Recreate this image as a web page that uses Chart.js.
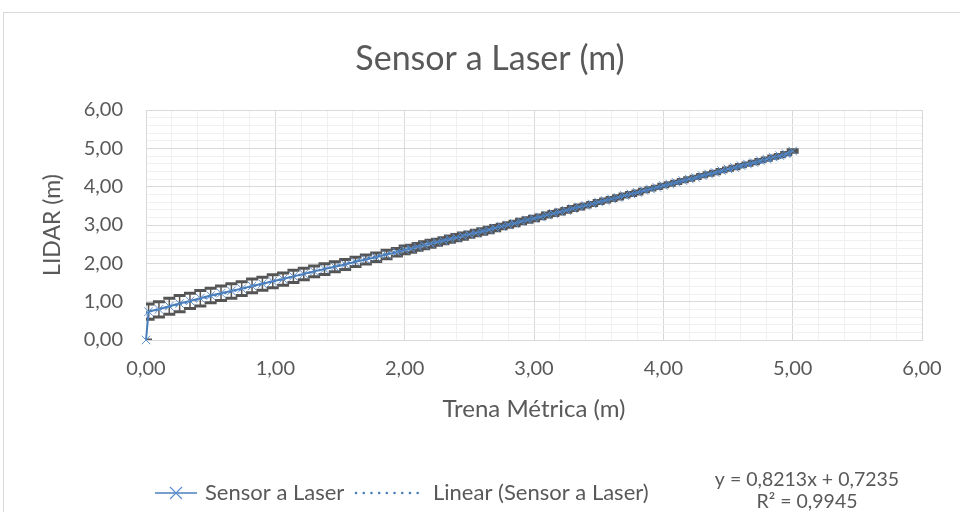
<!DOCTYPE html>
<html>
<head>
<meta charset="utf-8">
<script src="https://cdn.jsdelivr.net/npm/chart.js@4/dist/chart.umd.min.js"></script>
<style>
html,body{margin:0;padding:0;background:#fff;}
#wrap{position:relative;width:960px;height:512px;}
</style>
</head>
<body>
<div id="wrap"><canvas id="c" width="960" height="512"></canvas></div>
<script>
const chartTitle = "Sensor a Laser (m)";
const xTitle = "Trena Métrica (m)";
const yTitle = "LIDAR (m)";
const seriesName = "Sensor a Laser";
const trendName = "Linear (Sensor a Laser)";
const trendSlope = 0.8213;
const trendIntercept = 0.7235;
const trendText = ["y = 0,8213x + 0,7235", "R² = 0,9945"];

const trena = [0.00,0.02,0.10,0.18,0.26,0.34,0.42,0.50,0.58,0.66,0.74,0.82,0.90,0.98,
1.06,1.14,1.22,1.30,1.38,1.46,1.54,1.62,1.70,1.78,1.86,1.94,
2.00,2.05,2.10,2.15,2.20,2.25,2.30,2.35,2.40,2.45,2.50,2.55,2.60,2.65,2.70,2.75,2.80,2.85,2.90,2.95,
3.00,3.05,3.10,3.15,3.20,3.25,3.30,3.35,3.40,3.45,3.50,3.55,3.60,3.65,3.70,3.75,3.80,3.85,3.90,3.95,
4.00,4.05,4.10,4.15,4.20,4.25,4.30,4.35,4.40,4.45,4.50,4.55,4.60,4.65,4.70,4.75,4.80,4.85,4.90,4.95,5.00];

const lidar = [0.00,0.74,0.80,0.88,0.95,1.02,1.09,1.16,1.22,1.28,1.34,1.41,1.47,1.53,
1.59,1.66,1.72,1.79,1.85,1.91,1.97,2.04,2.10,2.16,2.23,2.29,
2.35,2.38,2.43,2.47,2.51,2.55,2.59,2.63,2.67,2.71,2.75,2.79,2.83,2.87,2.92,2.96,3.00,3.04,3.09,3.13,
3.17,3.21,3.26,3.30,3.34,3.38,3.43,3.47,3.51,3.55,3.60,3.64,3.68,3.72,3.77,3.81,3.85,3.90,3.94,3.98,
4.03,4.07,4.11,4.16,4.20,4.24,4.29,4.33,4.37,4.42,4.46,4.50,4.55,4.59,4.63,4.68,4.72,4.77,4.81,4.86,4.93];

const erro = [0.00,0.20,0.20,0.21,0.21,0.20,0.20,0.19,0.19,0.19,0.18,0.18,0.17,0.17,
0.16,0.16,0.15,0.14,0.14,0.13,0.13,0.12,0.12,0.11,0.11,0.10,
0.10,0.09,0.09,0.09,0.09,0.08,0.08,0.08,0.08,0.08,0.07,0.07,0.07,0.07,0.07,0.06,0.06,0.06,0.06,0.06,
0.06,0.05,0.05,0.05,0.05,0.05,0.05,0.05,0.04,0.04,0.04,0.04,0.04,0.04,0.04,0.04,0.04,0.03,0.03,0.03,
0.03,0.03,0.03,0.03,0.03,0.03,0.03,0.03,0.03,0.03,0.03,0.03,0.03,0.03,0.03,0.03,0.03,0.03,0.03,0.03,0.03];

const axisMin = 0, axisMax = 6, minorStep = 0.2;

const FONT = "Lato, 'Liberation Sans', sans-serif";
const TXT = "#595959";
const BLUE = "#4a7ebb";
const MARK = "#5b8fd0";

const fmt = v => v.toFixed(2).replace('.', ',');
const isMajor = v => Math.abs(v - Math.round(v)) < 1e-6;

const points = trena.map((x, i) => ({x: x, y: lidar[i]}));
const trendX = [trena[0], trena[trena.length - 1]];
const trendPts = trendX.map(x => ({x: x, y: trendSlope * x + trendIntercept}));

const frame = {
  id: 'frame',
  beforeDraw(chart) {
    const ctx = chart.ctx;
    ctx.save();
    ctx.fillStyle = '#fff';
    ctx.fillRect(0, 0, chart.width, chart.height);
    ctx.strokeStyle = '#d9d9d9';
    ctx.lineWidth = 1;
    ctx.strokeRect(3.5, 12.5, 2000, 2000);
    ctx.restore();
  },
  afterDraw(chart) {
    const ctx = chart.ctx;
    ctx.save();
    ctx.fillStyle = TXT;
    ctx.textAlign = 'center';
    ctx.textBaseline = 'middle';
    ctx.font = "34px " + FONT;
    ctx.fillText(chartTitle, 490, 59);
    // legend
    const ly = 493;
    ctx.strokeStyle = BLUE;
    ctx.lineWidth = 1.5;
    ctx.beginPath(); ctx.moveTo(155, ly); ctx.lineTo(197, ly); ctx.stroke();
    ctx.strokeStyle = MARK; ctx.lineWidth = 1.2;
    ctx.beginPath();
    ctx.moveTo(170, ly - 6); ctx.lineTo(182, ly + 6);
    ctx.moveTo(170, ly + 6); ctx.lineTo(182, ly - 6);
    ctx.stroke();
    ctx.font = "22px " + FONT;
    ctx.textAlign = 'left';
    ctx.fillText(seriesName, 205, ly);
    ctx.strokeStyle = BLUE; ctx.lineWidth = 2.5; ctx.lineCap = 'round';
    ctx.setLineDash([0.1, 7.6]);
    ctx.beginPath(); ctx.moveTo(356, ly); ctx.lineTo(424, ly); ctx.stroke();
    ctx.setLineDash([]);
    ctx.fillText(trendName, 433, ly);
    ctx.textAlign = 'center';
    ctx.font = "19.5px " + FONT;
    ctx.fillText(trendText[0], 807, 480);
    ctx.fillText(trendText[1], 807, 502);
    ctx.restore();
  }
};

const errorBars = {
  id: 'errorBars',
  beforeDatasetsDraw(chart) {
    const ctx = chart.ctx, xs = chart.scales.x, ys = chart.scales.y, a = chart.chartArea;
    ctx.save();
    ctx.beginPath();
    ctx.rect(a.left, a.top, a.right - a.left, a.bottom - a.top);
    ctx.clip();
    ctx.strokeStyle = '#555555';
    trena.forEach((x, i) => {
      const px = xs.getPixelForValue(x);
      const top = ys.getPixelForValue(lidar[i] + erro[i]);
      const bot = ys.getPixelForValue(lidar[i] - erro[i]);
      ctx.lineWidth = 1.5;
      ctx.beginPath();
      ctx.moveTo(px, top); ctx.lineTo(px, bot);
      ctx.stroke();
      ctx.lineWidth = 3;
      ctx.beginPath();
      ctx.moveTo(px - 6, top); ctx.lineTo(px + 6, top);
      ctx.moveTo(px - 6, bot); ctx.lineTo(px + 6, bot);
      ctx.stroke();
    });
    ctx.restore();
  }
};

const gridColor = c => (c.tick && isMajor(c.tick.value)) ? '#d9d9d9' : '#f0f0f0';

new Chart(document.getElementById('c'), {
  type: 'scatter',
  data: {
    datasets: [
      {
        label: trendName,
        data: trendPts,
        showLine: true,
        borderColor: BLUE,
        borderWidth: 2.5,
        borderDash: [0.1, 5],
        borderCapStyle: 'round',
        pointRadius: 0,
        order: 0
      },
      {
        label: seriesName,
        data: points,
        showLine: true,
        clip: false,
        borderColor: BLUE,
        borderWidth: 2,
        pointStyle: 'crossRot',
        pointRadius: 6,
        pointBorderColor: MARK,
        pointBorderWidth: 1,
        order: 1
      }
    ]
  },
  options: {
    responsive: false,
    animation: false,
    devicePixelRatio: 1,
    layout: {padding: {top: 110, left: 0, right: 38, bottom: 82}},
    plugins: {legend: {display: false}, tooltip: {enabled: false}, title: {display: false}},
    scales: {
      x: {
        type: 'linear', min: axisMin, max: axisMax,
        afterFit: s => { s.height = 90; },
        border: {color: '#d9d9d9', width: 1},
        grid: {color: gridColor, drawTicks: false, lineWidth: 1},
        ticks: {stepSize: minorStep, autoSkip: false, maxRotation: 0, padding: 17, color: TXT,
                font: {family: FONT, size: 20},
                callback: v => isMajor(v) ? fmt(v) : ''},
        title: {display: true, text: xTitle, color: TXT, font: {family: FONT, size: 24}, padding: {top: 0, bottom: 6}}
      },
      y: {
        type: 'linear', min: axisMin, max: axisMax,
        afterFit: s => { s.width = 146; },
        border: {color: '#d9d9d9', width: 1},
        grid: {color: gridColor, drawTicks: false, lineWidth: 1},
        ticks: {stepSize: minorStep, autoSkip: false, padding: 23, color: TXT,
                font: {family: FONT, size: 20},
                callback: v => isMajor(v) ? fmt(v) : ''},
        title: {display: true, text: yTitle, color: TXT, font: {family: FONT, size: 23}, padding: {top: 39, bottom: 0}}
      }
    }
  },
  plugins: [frame, errorBars]
});
</script>
</body>
</html>
